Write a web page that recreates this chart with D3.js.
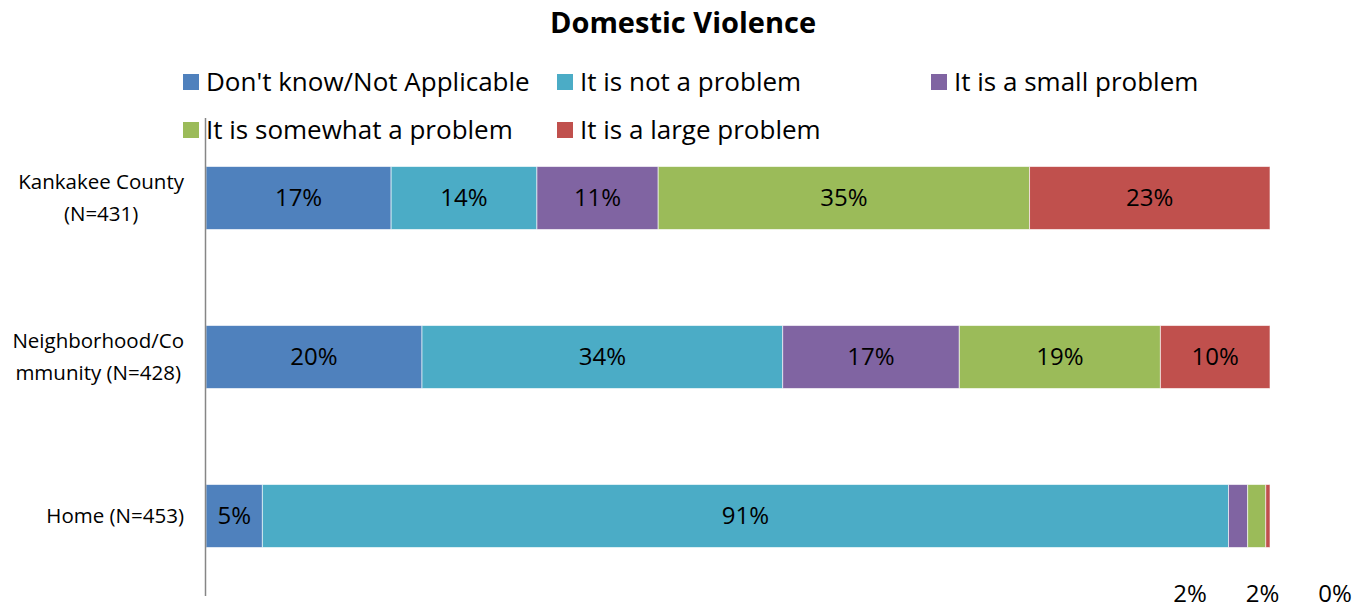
<!DOCTYPE html>
<html>
<head>
<meta charset="utf-8">
<script src="https://cdn.jsdelivr.net/npm/d3@7"></script>
<style>
  body { margin: 0; background: #fff; }
  svg text { font-family: "Open Sans", "Noto Sans", sans-serif; fill: #000; }
</style>
</head>
<body>
<div class="chart"></div>
<script>
const w = 1366;
const h = 610;

// data (percent of respondents)
const categories = ["Kankakee County (N=431)", "Neighborhood/Community (N=428)", "Home (N=453)"];
const categoryLines = [["Kankakee County", "(N=431)"], ["Neighborhood/Co", "mmunity (N=428)"], ["Home (N=453)"]];
const seriesNames = ["Don't know/Not Applicable", "It is not a problem", "It is a small problem", "It is somewhat a problem", "It is a large problem"];
const seriesColors = ["#4f81bd", "#4bacc6", "#8064a2", "#9bbb59", "#c0504d"];
const dontKnow = [17.4, 20.3, 5.3];
const notProblem = [13.7, 33.9, 90.8];
const smallProblem = [11.4, 16.6, 1.8];
const somewhatProblem = [34.9, 18.9, 1.7];
const largeProblem = [22.6, 10.3, 0.4];

const series = [dontKnow, notProblem, smallProblem, somewhatProblem, largeProblem];

const rows = categories.map((c, i) => {
  const r = { cat: c };
  seriesNames.forEach((s, j) => { r[s] = series[j][i]; });
  return r;
});

const stacked = d3.stack().keys(seriesNames)(rows);

const x = d3.scaleLinear().domain([0, 100]).range([206, 1270]);
const y = d3.scaleBand().domain(categories).range([118.5, 595.5])
  .paddingInner(0.604).paddingOuter(0.302);
const color = d3.scaleOrdinal().domain(seriesNames).range(seriesColors);

const svg = d3.select(".chart").append("svg")
  .attr("width", w).attr("height", h);

// title
svg.append("text")
  .attr("x", 683).attr("y", 23)
  .attr("dy", "0.35em")
  .attr("text-anchor", "middle")
  .style("font-size", "29px").style("font-weight", "bold")
  .text("Domestic Violence");

// legend
const legend = svg.append("g").attr("class", "legend")
  .selectAll("g").data(seriesNames).enter().append("g")
  .attr("transform", (d, i) => "translate(" + (183 + (i % 3) * 374) + "," + (i < 3 ? 82 : 130) + ")");
legend.append("rect")
  .attr("x", 0).attr("y", -8).attr("width", 16).attr("height", 16)
  .attr("fill", d => color(d));
legend.append("text")
  .attr("x", 23).attr("y", 0).attr("dy", "0.35em")
  .style("font-size", "26px")
  .text(d => d);

// bars
const layer = svg.append("g").selectAll("g").data(stacked).enter().append("g")
  .attr("fill", d => color(d.key));

layer.selectAll("rect").data(d => d).enter().append("rect")
  .attr("x", d => x(d[0]))
  .attr("y", d => y(d.data.cat))
  .attr("width", d => x(d[1]) - x(d[0]))
  .attr("height", y.bandwidth())
  .attr("stroke", "#ffffff").attr("stroke-opacity", 0.6).attr("stroke-width", 1);

// value labels inside big segments
layer.selectAll("text").data(d => d.filter(p => (p[1] - p[0]) >= 4)).enter().append("text")
  .attr("x", d => (x(d[0]) + x(d[1])) / 2)
  .attr("y", d => y(d.data.cat) + y.bandwidth() / 2)
  .attr("dy", "0.35em")
  .attr("text-anchor", "middle")
  .style("font-size", "24px")
  .text(d => Math.round(d[1] - d[0]) + "%");

// small segments: labels pushed below the plot, as in the original
const small = [];
stacked.forEach(s => s.forEach(p => { if (p[1] - p[0] < 4) small.push(p); }));
svg.append("g").selectAll("text").data(small).enter().append("text")
  .attr("x", (d, i) => x(100) - 80 + i * 72.5)
  .attr("y", 594)
  .attr("dy", "0.35em")
  .attr("text-anchor", "middle")
  .style("font-size", "24px")
  .text(d => Math.round(d[1] - d[0]) + "%");

// category axis
svg.append("line")
  .attr("x1", 205.5).attr("x2", 205.5).attr("y1", 118).attr("y2", 596)
  .attr("stroke", "#868686").attr("stroke-width", 1.5);

// category labels: wrapped block right-aligned at 184, lines centred in the block
const catLabel = svg.append("g").selectAll("text").data(categories).enter().append("text")
  .attr("text-anchor", "middle")
  .style("font-size", "20.5px");
catLabel.each(function(d, i) {
  const lines = categoryLines[i];
  const t = d3.select(this);
  lines.forEach((l, k) => {
    t.append("tspan").attr("x", 0)
      .attr("y", (k - (lines.length - 1) / 2) * 32)
      .attr("dy", "0.35em")
      .text(l);
  });
  let widest = 0;
  t.selectAll("tspan").each(function() { widest = Math.max(widest, this.getComputedTextLength()); });
  t.attr("transform", "translate(" + (184 - widest / 2) + "," + (y(d) + y.bandwidth() / 2) + ")");
});
</script>
</body>
</html>
